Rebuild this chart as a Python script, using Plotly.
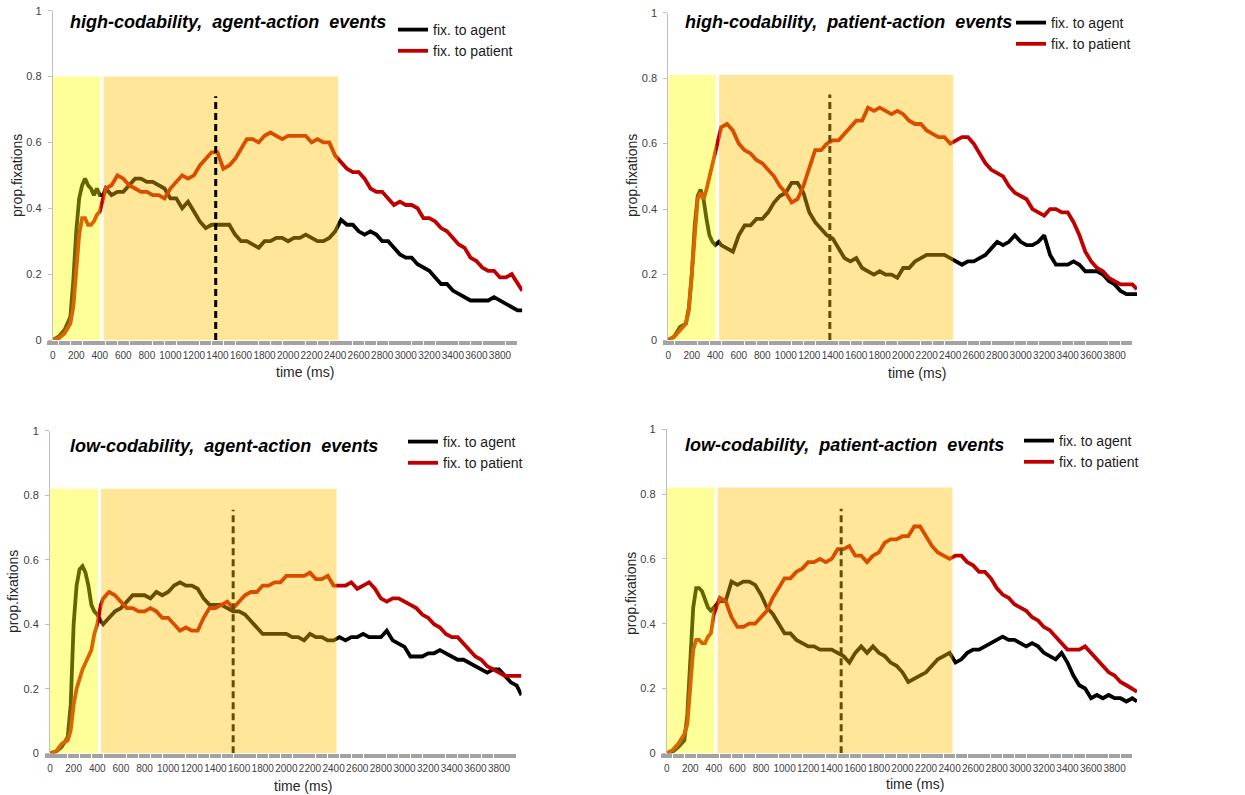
import plotly.graph_objects as go

# ---------------- data ----------------
time_ms = [0, 50, 100, 150, 175, 200, 225, 250, 275, 300, 325, 350, 375, 400, 430, 450,
           500, 550, 600, 650, 700, 750, 800, 850, 900, 950,
           1000, 1050, 1100, 1150, 1200, 1250, 1300, 1350, 1400, 1450,
           1500, 1550, 1600, 1650, 1700, 1750, 1800, 1850, 1900, 1950,
           2000, 2050, 2100, 2150, 2200, 2250, 2300, 2350, 2400, 2450,
           2500, 2550, 2600, 2650, 2700, 2750, 2800, 2850, 2900, 2950,
           3000, 3050, 3100, 3150, 3200, 3250, 3300, 3350, 3400, 3450,
           3500, 3550, 3600, 3650, 3700, 3750, 3800, 3850, 3900, 3950, 3990]

# high-codability, agent-action
hi_agent_act_agent = [0, 0.01, 0.03, 0.07, 0.18, 0.33, 0.43, 0.47, 0.49, 0.47, 0.46, 0.44, 0.46, 0.44, 0.44, 0.46,
                      0.44, 0.45, 0.45, 0.47, 0.49, 0.49, 0.48, 0.48, 0.47, 0.46,
                      0.43, 0.43, 0.40, 0.42, 0.39, 0.36, 0.34, 0.35, 0.35, 0.35,
                      0.35, 0.32, 0.30, 0.30, 0.29, 0.28, 0.30, 0.30, 0.31, 0.31,
                      0.30, 0.31, 0.31, 0.32, 0.31, 0.30, 0.30, 0.31, 0.33, 0.365,
                      0.35, 0.35, 0.33, 0.32, 0.33, 0.32, 0.30, 0.30, 0.28, 0.26,
                      0.25, 0.25, 0.23, 0.22, 0.21, 0.19, 0.17, 0.17, 0.15, 0.14,
                      0.13, 0.12, 0.12, 0.12, 0.12, 0.13, 0.12, 0.11, 0.10, 0.09, 0.09]
hi_agent_act_patient = [0, 0.005, 0.02, 0.05, 0.10, 0.22, 0.32, 0.37, 0.37, 0.35, 0.35, 0.36, 0.38, 0.39, 0.44, 0.46,
                        0.47, 0.50, 0.49, 0.47, 0.46, 0.45, 0.45, 0.44, 0.44, 0.43,
                        0.46, 0.48, 0.50, 0.49, 0.50, 0.53, 0.55, 0.57, 0.57, 0.52,
                        0.53, 0.55, 0.58, 0.61, 0.61, 0.60, 0.62, 0.63, 0.62, 0.61,
                        0.62, 0.62, 0.62, 0.62, 0.60, 0.61, 0.60, 0.60, 0.56, 0.54,
                        0.52, 0.51, 0.51, 0.49, 0.46, 0.45, 0.45, 0.43, 0.41, 0.42,
                        0.41, 0.41, 0.40, 0.37, 0.37, 0.36, 0.34, 0.33, 0.31, 0.29,
                        0.28, 0.25, 0.24, 0.22, 0.21, 0.21, 0.19, 0.19, 0.20, 0.17, 0.15]

# high-codability, patient-action
hi_pat_act_agent = [0, 0.01, 0.04, 0.05, 0.10, 0.20, 0.35, 0.44, 0.46, 0.43, 0.37, 0.32, 0.30, 0.29, 0.30, 0.29,
                    0.28, 0.27, 0.32, 0.35, 0.35, 0.37, 0.37, 0.39, 0.42, 0.44,
                    0.45, 0.48, 0.48, 0.45, 0.39, 0.36, 0.34, 0.32, 0.31, 0.28,
                    0.25, 0.24, 0.25, 0.22, 0.21, 0.20, 0.21, 0.20, 0.20, 0.19,
                    0.22, 0.22, 0.24, 0.25, 0.26, 0.26, 0.26, 0.26, 0.25, 0.24,
                    0.23, 0.24, 0.24, 0.25, 0.26, 0.28, 0.30, 0.29, 0.30, 0.32,
                    0.30, 0.29, 0.29, 0.30, 0.32, 0.26, 0.23, 0.23, 0.23, 0.24,
                    0.23, 0.21, 0.21, 0.21, 0.20, 0.18, 0.17, 0.15, 0.14, 0.14, 0.14]
hi_pat_act_patient = [0, 0.01, 0.03, 0.05, 0.09, 0.20, 0.34, 0.43, 0.45, 0.43, 0.46, 0.50, 0.54, 0.58, 0.62, 0.65,
                      0.66, 0.64, 0.60, 0.58, 0.57, 0.55, 0.54, 0.52, 0.50, 0.47,
                      0.45, 0.42, 0.43, 0.47, 0.53, 0.58, 0.58, 0.60, 0.61, 0.61,
                      0.63, 0.65, 0.67, 0.67, 0.71, 0.70, 0.71, 0.70, 0.69, 0.70,
                      0.69, 0.67, 0.66, 0.66, 0.64, 0.63, 0.62, 0.62, 0.60, 0.61,
                      0.62, 0.62, 0.60, 0.57, 0.54, 0.52, 0.51, 0.50, 0.47, 0.45,
                      0.44, 0.43, 0.40, 0.39, 0.38, 0.40, 0.40, 0.39, 0.39, 0.36,
                      0.32, 0.27, 0.24, 0.22, 0.21, 0.19, 0.18, 0.17, 0.17, 0.17, 0.155]

# low-codability, agent-action
lo_agent_act_agent = [0, 0.005, 0.02, 0.05, 0.15, 0.40, 0.52, 0.57, 0.58, 0.56, 0.52, 0.46, 0.44, 0.43, 0.41, 0.40,
                      0.42, 0.44, 0.45, 0.47, 0.49, 0.49, 0.49, 0.48, 0.50, 0.49,
                      0.50, 0.52, 0.53, 0.52, 0.52, 0.51, 0.48, 0.46, 0.46, 0.46,
                      0.45, 0.44, 0.44, 0.43, 0.41, 0.39, 0.37, 0.37, 0.37, 0.37,
                      0.37, 0.36, 0.36, 0.35, 0.37, 0.36, 0.36, 0.35, 0.35, 0.36,
                      0.35, 0.36, 0.36, 0.37, 0.36, 0.36, 0.36, 0.38, 0.35, 0.34,
                      0.33, 0.30, 0.30, 0.30, 0.31, 0.31, 0.32, 0.31, 0.30, 0.29,
                      0.29, 0.28, 0.27, 0.26, 0.25, 0.26, 0.26, 0.24, 0.22, 0.21, 0.18]
lo_agent_act_patient = [0, 0.005, 0.03, 0.04, 0.07, 0.15, 0.20, 0.23, 0.26, 0.28, 0.30, 0.32, 0.37, 0.40, 0.46, 0.48,
                        0.50, 0.49, 0.47, 0.45, 0.45, 0.44, 0.44, 0.45, 0.44, 0.42,
                        0.42, 0.40, 0.38, 0.39, 0.38, 0.38, 0.42, 0.45, 0.45, 0.46,
                        0.47, 0.45, 0.47, 0.49, 0.50, 0.50, 0.52, 0.52, 0.53, 0.53,
                        0.55, 0.55, 0.55, 0.55, 0.56, 0.54, 0.54, 0.55, 0.52, 0.52,
                        0.52, 0.53, 0.51, 0.52, 0.53, 0.51, 0.48, 0.47, 0.48, 0.48,
                        0.47, 0.46, 0.45, 0.43, 0.42, 0.40, 0.39, 0.37, 0.36, 0.36,
                        0.34, 0.32, 0.30, 0.29, 0.27, 0.26, 0.25, 0.24, 0.24, 0.24, 0.24]

# low-codability, patient-action
lo_pat_act_agent = [0, 0.005, 0.02, 0.04, 0.12, 0.30, 0.45, 0.51, 0.51, 0.50, 0.47, 0.45, 0.44, 0.45, 0.46, 0.47,
                    0.47, 0.53, 0.52, 0.53, 0.53, 0.52, 0.49, 0.45, 0.43, 0.40,
                    0.37, 0.37, 0.35, 0.34, 0.33, 0.33, 0.32, 0.32, 0.32, 0.31,
                    0.30, 0.28, 0.31, 0.33, 0.31, 0.33, 0.31, 0.30, 0.28, 0.27,
                    0.25, 0.22, 0.23, 0.24, 0.25, 0.27, 0.29, 0.30, 0.31, 0.28,
                    0.29, 0.31, 0.32, 0.32, 0.33, 0.34, 0.35, 0.36, 0.35, 0.35,
                    0.34, 0.33, 0.34, 0.33, 0.31, 0.30, 0.29, 0.31, 0.28, 0.24,
                    0.21, 0.20, 0.17, 0.18, 0.17, 0.18, 0.17, 0.17, 0.16, 0.17, 0.16]
lo_pat_act_patient = [0, 0.01, 0.03, 0.06, 0.09, 0.20, 0.32, 0.35, 0.35, 0.34, 0.34, 0.36, 0.37, 0.43, 0.46, 0.48,
                      0.47, 0.42, 0.39, 0.39, 0.40, 0.40, 0.42, 0.44, 0.48, 0.51,
                      0.54, 0.54, 0.56, 0.57, 0.59, 0.59, 0.60, 0.59, 0.60, 0.63,
                      0.63, 0.64, 0.61, 0.61, 0.59, 0.61, 0.62, 0.65, 0.66, 0.66,
                      0.67, 0.67, 0.70, 0.70, 0.67, 0.64, 0.62, 0.61, 0.60, 0.61,
                      0.61, 0.59, 0.58, 0.56, 0.56, 0.54, 0.51, 0.49, 0.48, 0.46,
                      0.45, 0.44, 0.42, 0.41, 0.39, 0.38, 0.36, 0.34, 0.32, 0.32,
                      0.32, 0.33, 0.31, 0.29, 0.27, 0.25, 0.24, 0.22, 0.21, 0.20, 0.19]

panel_titles = ["high-codability,\u00a0 agent-action\u00a0 events",
                "high-codability,\u00a0 patient-action\u00a0 events",
                "low-codability,\u00a0 agent-action\u00a0 events",
                "low-codability,\u00a0 patient-action\u00a0 events"]
series_names = ["fix. to agent", "fix. to patient"]
speech_onset_ms = [1385, 1375, 1550, 1480]   # dashed vertical markers
dashed_top = [0.74, 0.75, 0.755, 0.755]
x_tick_vals = [0, 200, 400, 600, 800, 1000, 1200, 1400, 1600, 1800, 2000, 2200, 2400,
               2600, 2800, 3000, 3200, 3400, 3600, 3800]
x_tick_text = [str(v) for v in x_tick_vals]
y_tick_vals = [0, 0.2, 0.4, 0.6, 0.8, 1]

panel_data = [(hi_agent_act_agent, hi_agent_act_patient),
              (hi_pat_act_agent, hi_pat_act_patient),
              (lo_agent_act_agent, lo_agent_act_patient),
              (lo_pat_act_agent, lo_pat_act_patient)]

# ---------------- layout geometry (pixels) ----------------
W, H = 1245, 795
def px(x):
    return x / W
def py(y):
    return 1 - y / H

# (x0px, x_end_px, y_bottom_px, y_top_px)
panel_box = [(52.7, 522.3, 340, 10.7),
             (668.3, 1137, 340, 12.7),
             (50, 521.5, 753.3, 430.7),
             (666.7, 1137, 753.3, 429.3)]
title_pos = [(68, 22), (683, 22), (68, 446), (683, 445)]
ylab_pos = [(17, 176), (632, 176), (13, 592), (631, 593)]
xlab_pos = [(305, 372), (917, 373), (303, 786), (915, 784)]
legend_pos = [(393, 14), (1011, 7), (403, 426), (1019, 425)]
shade_top = [0.80, 0.81, 0.82, 0.82]
YELLOW_END, PEACH_START, PEACH_END = 405, 432, 2425
X_MAX = 3990

AGENT_COL = "#000000"
PATIENT_COL = "#C00000"
FONT = "Liberation Sans, Arial, sans-serif"

fig = go.Figure()
layout_axes = {}
shapes = []
annotations = []
legends = {}

for i in range(4):
    n = "" if i == 0 else str(i + 1)
    xa, ya = "x" + n, "y" + n
    lg = "legend" + n
    agent, patient = panel_data[i]
    fig.add_trace(go.Scatter(x=time_ms, y=agent, mode="lines", name=series_names[0],
                             line=dict(color=AGENT_COL, width=3.8), xaxis=xa, yaxis=ya,
                             legend=lg))
    fig.add_trace(go.Scatter(x=time_ms, y=patient, mode="lines", name=series_names[1],
                             line=dict(color=PATIENT_COL, width=3.8), xaxis=xa, yaxis=ya,
                             legend=lg))
    x0, x1, yb, yt = panel_box[i]
    layout_axes["xaxis" + n] = dict(
        domain=[px(x0), px(x1)], range=[0, X_MAX], anchor=ya, automargin=False,
        showgrid=False, zeroline=False, showline=False,
        tickmode="array", tickvals=x_tick_vals, ticktext=x_tick_text, tickangle=0,
        ticks="outside", ticklen=4, tickwidth=10.6, tickcolor="#a3a3a3",
        minor=dict(dtick=100, ticks="outside", ticklen=4, tickwidth=10.6, tickcolor="#a3a3a3"),
        tickfont=dict(family=FONT, size=10, color="#404040"), ticklabelstandoff=2,
        fixedrange=True)
    layout_axes["yaxis" + n] = dict(
        domain=[py(yb), py(yt)], range=[0, 1], anchor=xa, automargin=False,
        showgrid=False, zeroline=False, showline=True, linecolor="#bfbfbf", linewidth=1,
        tickvals=y_tick_vals, ticks="outside", ticklen=4, tickcolor="#bfbfbf",
        ticklabelstandoff=4,
        tickfont=dict(family=FONT, size=11, color="#404040"), fixedrange=True)

    # dashed marker line (below shading except first panel)
    dash_shape = dict(type="line", xref=xa, yref=ya, x0=speech_onset_ms[i], x1=speech_onset_ms[i],
                      y0=0, y1=dashed_top[i], layer="above",
                      line=dict(color="#000000", width=3, dash="7px,4px"))
    rects = [dict(type="rect", xref=xa, yref=ya, x0=0, x1=YELLOW_END, y0=0, y1=shade_top[i],
                  layer="above", fillcolor="rgb(255,255,0)", opacity=0.4, line=dict(width=0)),
             dict(type="rect", xref=xa, yref=ya, x0=PEACH_START, x1=PEACH_END, y0=0, y1=shade_top[i],
                  layer="above", fillcolor="rgb(255,192,0)", opacity=0.4, line=dict(width=0))]
    if i == 0:
        shapes += rects + [dash_shape]
    else:
        shapes += [dash_shape] + rects

    tx, ty = title_pos[i]
    annotations.append(dict(text=panel_titles[i], xref="paper", yref="paper", x=px(tx), y=py(ty),
                            xanchor="left", yanchor="middle", showarrow=False,
                            font=dict(family=FONT, size=18, color="#000000",
                                      weight="bold", style="italic")))
    lx, ly = ylab_pos[i]
    annotations.append(dict(text="prop.fixations", xref="paper", yref="paper", x=px(lx), y=py(ly),
                            xanchor="center", yanchor="middle", textangle=-90, showarrow=False,
                            font=dict(family=FONT, size=14, color="#262626")))
    lx, ly = xlab_pos[i]
    annotations.append(dict(text="time (ms)", xref="paper", yref="paper", x=px(lx), y=py(ly),
                            xanchor="center", yanchor="middle", showarrow=False,
                            font=dict(family=FONT, size=14, color="#262626")))
    gx, gy = legend_pos[i]
    legends[lg] = dict(x=px(gx), y=py(gy), xanchor="left", yanchor="top",
                       bgcolor="rgba(0,0,0,0)", borderwidth=0, tracegroupgap=0,
                       font=dict(family=FONT, size=14, color="#1a1a1a"))

fig.update_layout(width=W, height=H, margin=dict(l=0, r=0, t=0, b=0, autoexpand=False),
                  paper_bgcolor="white", plot_bgcolor="white",
                  showlegend=True, shapes=shapes, annotations=annotations,
                  **layout_axes, **legends)

fig.write_html("out.html")
